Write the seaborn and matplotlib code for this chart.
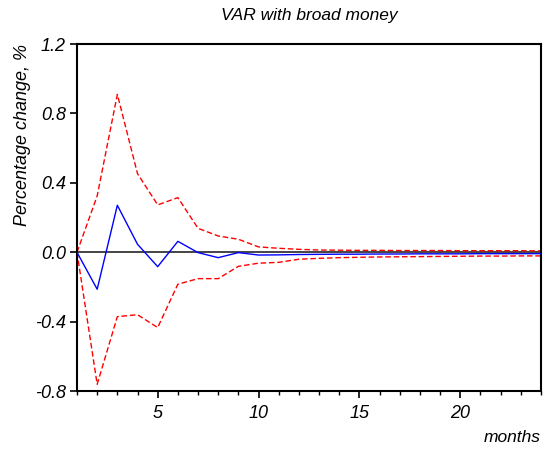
import matplotlib
matplotlib.use("Agg")
import matplotlib.pyplot as plt
import seaborn as sns
import pandas as pd
from matplotlib.ticker import MultipleLocator, FormatStrFormatter

months = list(range(1, 25))
response = [0.0, -0.213, 0.271, 0.046, -0.083, 0.063, -0.002, -0.031, -0.002, -0.016,
            -0.015, -0.013, -0.012, -0.011, -0.011, -0.010, -0.010, -0.009, -0.009,
            -0.009, -0.008, -0.008, -0.008, -0.008]
upper = [0.0, 0.325, 0.91, 0.453, 0.273, 0.315, 0.138, 0.094, 0.075, 0.031, 0.023,
         0.017, 0.013, 0.012, 0.011, 0.011, 0.010, 0.010, 0.010, 0.009, 0.009, 0.009,
         0.009, 0.008]
lower = [0.0, -0.761, -0.371, -0.36, -0.434, -0.184, -0.152, -0.152, -0.081, -0.063,
         -0.058, -0.04, -0.035, -0.031, -0.029, -0.027, -0.026, -0.025, -0.024, -0.023,
         -0.022, -0.022, -0.021, -0.021]

sns.set_style("ticks")
plt.rcParams['font.family'] = ['Liberation Sans', 'DejaVu Sans']
plt.rcParams['font.style'] = 'italic'
plt.rcParams['text.color'] = 'black'
plt.rcParams['axes.labelcolor'] = 'black'
plt.rcParams['xtick.color'] = 'black'
plt.rcParams['ytick.color'] = 'black'

df = pd.DataFrame({'month': months * 3,
                   'value': response + upper + lower,
                   'series': ['response'] * 24 + ['upper'] * 24 + ['lower'] * 24})

fig = plt.figure(figsize=(5.5, 4.5), dpi=100)
ax = fig.add_axes([0.14, 0.131, 0.8436, 0.771])

ax.axhline(0, color='#444444', lw=1.4, zorder=1)
sns.lineplot(data=df[df.series == 'response'], x='month', y='value',
             color='#0000ff', lw=1, ax=ax, zorder=3)
for s in ['upper', 'lower']:
    sns.lineplot(data=df[df.series == s], x='month', y='value',
                 color='#ff0000', lw=1, ax=ax, zorder=2)
for l in ax.lines[-2:]:
    l.set_dashes([4, 2])

ax.set_xlim(1, 24)
ax.set_ylim(-0.8, 1.2)
ax.xaxis.set_major_locator(MultipleLocator(5))
ax.xaxis.set_minor_locator(MultipleLocator(1))
ax.yaxis.set_major_locator(MultipleLocator(0.4))
ax.yaxis.set_major_formatter(FormatStrFormatter('%.1f'))
ax.tick_params(axis='both', which='major', labelsize=13, length=5, width=1.2,
               color='black', labelcolor='black')
ax.tick_params(axis='x', which='minor', length=3, width=1, color='black')
ax.tick_params(axis='x', pad=5)
ax.tick_params(axis='y', pad=3)
for sp in ax.spines.values():
    sp.set_linewidth(1.5)
    sp.set_color('black')

ax.set_title('VAR with broad money', fontsize=12.5, style='italic', pad=17)
ax.set_xlabel('months', fontsize=12.5, style='italic', loc='right', labelpad=6)
ax.set_ylabel('Percentage change, %', fontsize=13, style='italic', loc='top', labelpad=3)

fig.savefig('out.png', dpi=100)
